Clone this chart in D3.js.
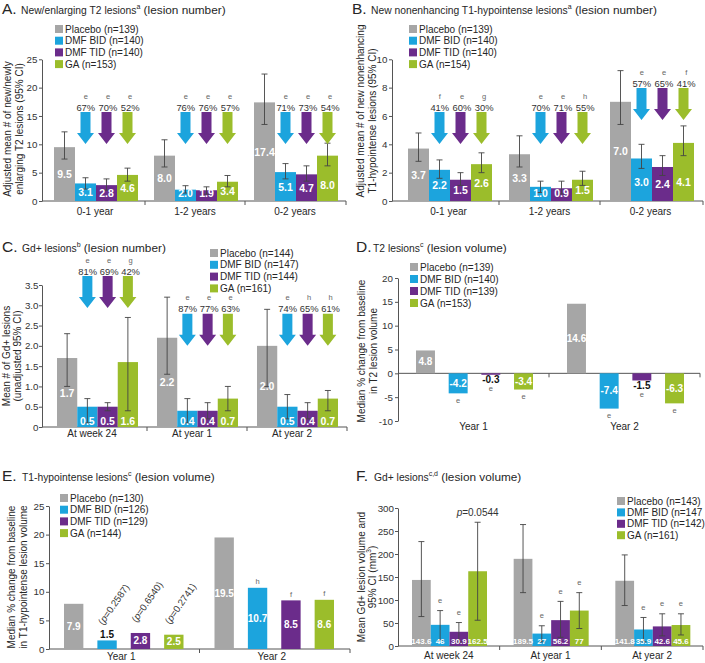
<!DOCTYPE html>
<html><head><meta charset="utf-8">
<script src="https://cdn.jsdelivr.net/npm/d3@7"></script>
<style>
body{margin:0;background:#fff}
svg{display:block;font-family:"Liberation Sans",Arial,Helvetica,sans-serif}
</style>
</head><body>
<svg id="c" width="705" height="663"></svg>
<script>
// ---------- shared ----------
const seriesNames = ["Placebo","DMF BID","DMF TID","GA"];
const colors = ["#a6a6a6","#1ca4dd","#6b2c8b","#9bbd2b"];

// ---------- Panel A ----------
const catsA = ["0-1 year","1-2 years","0-2 years"];
const legendA = ["Placebo (n=139)","DMF BID (n=140)","DMF TID (n=140)","GA (n=153)"];
const placeboA = [9.5, 8.0, 17.4];
const bidA = [3.1, 2.0, 5.1];
const tidA = [2.8, 1.9, 4.7];
const gaA = [4.6, 3.4, 8.0];
const loA = [[7.4, 6.0, 13.5],[2.1, 1.4, 3.9],[1.9, 1.2, 3.5],[3.5, 2.5, 6.2]];
const hiA = [[12.2, 10.8, 22.4],[4.1, 2.7, 6.6],[3.9, 2.5, 6.2],[5.8, 4.5, 10.2]];
const pctA = [[67,70,52],[76,76,57],[71,73,54]];
const sigA = [["e","e","e"],["e","e","e"],["e","e","e"]];
const arrowTopA = [15.7, 15.7, 15.7];
const ticksA = [0,5,10,15,20,25];

// ---------- Panel B ----------
const catsB = ["0-1 year","1-2 years","0-2 years"];
const legendB = ["Placebo (n=139)","DMF BID (n=140)","DMF TID (n=140)","GA (n=154)"];
const placeboB = [3.7, 3.3, 7.0];
const bidB = [2.2, 1.0, 3.0];
const tidB = [1.5, 0.9, 2.4];
const gaB = [2.6, 1.5, 4.1];
const loB = [[2.8, 2.4, 5.4],[1.6, 0.6, 2.3],[1.1, 0.5, 1.8],[2.0, 1.1, 3.2]];
const hiB = [[4.8, 4.6, 9.2],[2.9, 1.4, 4.0],[2.0, 1.4, 3.2],[3.4, 2.1, 5.3]];
const pctB = [[41,60,30],[70,71,55],[57,65,41]];
const sigB = [["f","e","g"],["e","e","h"],["e","e","f"]];
const arrowTopB = [6.28, 6.28, 7.97];
const ticksB = [0,2,4,6,8,10];

// ---------- Panel C ----------
const catsC = ["At week 24","At year 1","At year 2"];
const legendC = ["Placebo (n=144)","DMF BID (n=147)","DMF TID (n=144)","GA (n=161)"];
const placeboC = [1.7, 2.2, 2.0];
const bidC = [0.5, 0.4, 0.5];
const tidC = [0.5, 0.4, 0.4];
const gaC = [1.6, 0.7, 0.7];
const loC = [[1.0, 1.3, 1.0],[0.1, 0.1, 0.2],[0.4, 0.2, 0.2],[0.4, 0.4, 0.4]];
const hiC = [[2.3, 3.2, 2.9],[0.7, 0.7, 0.8],[0.6, 0.6, 0.6],[2.7, 1.0, 0.9]];
const pctC = [[81,69,42],[87,77,63],[74,65,61]];
const sigC = [["e","e","g"],["e","e","e"],["e","h","h"]];
const arrowTopC = [3.72, 2.79, 2.79];
const ticksC = [0,0.5,1.0,1.5,2.0,2.5,3.0,3.5];

// ---------- Panel D ----------
const catsD = ["Year 1","Year 2"];
const legendD = ["Placebo (n=139)","DMF BID (n=140)","DMF TID (n=139)","GA (n=153)"];
const placeboD = [4.8, 14.6];
const bidD = [-4.2, -7.4];
const tidD = [-0.3, -1.5];
const gaD = [-3.4, -6.3];
const sigD = [["e","e","e"],["e","e","e"]];
const ticksD = [-10,-5,0,5,10,15,20];

// ---------- Panel E ----------
const catsE = ["Year 1","Year 2"];
const legendE = ["Placebo (n=130)","DMF BID (n=126)","DMF TID (n=129)","GA (n=144)"];
const placeboE = [7.9, 19.5];
const bidE = [1.5, 10.7];
const tidE = [2.8, 8.5];
const gaE = [2.5, 8.6];
const pvalE = ["0.2587","0.6540","0.2741"];
const sigE = ["h","f","f"];
const ticksE = [0,5,10,15,20,25];

// ---------- Panel F ----------
const catsF = ["At week 24","At year 1","At year 2"];
const legendF = ["Placebo (n=143)","DMF BID (n=147","DMF TID (n=142)","GA (n=161)"];
const placeboF = [143.6, 189.5, 141.8];
const bidF = [46, 27, 35.9];
const tidF = [30.9, 56.2, 42.6];
const gaF = [162.5, 77, 45.6];
const loF = [[64, 116, 88],[13, 9, 9],[9, 19, 22],[56, 38, 24]];
const hiF = [[227, 264, 198],[77, 44, 62],[51, 97, 70],[269, 116, 70]];
const sigF = [["e","e",""],["e","e","e"],["e","e","e"]];
const pNoteF = "0.0544";
const ticksF = [0,50,100,150,200,250,300];

// ---------- drawing ----------
const svg = d3.select("#c");
const TXT = "#262626";

function title(t){
  svg.append("text").attr("x",t.x).attr("y",t.y).attr("font-size",15.5).attr("fill",TXT).text(t.letter+".");
  const tt = svg.append("text").attr("x",t.x2).attr("y",t.y).attr("fill",TXT);
  tt.append("tspan").attr("font-size",10.3).text(t.main);
  tt.append("tspan").attr("font-size",7).attr("dy",-5).text(t.sup);
  tt.append("tspan").attr("font-size",11.8).attr("dy",5).text(" "+t.paren);
}

function panel(c){
  const g = svg.append("g");
  const y = d3.scaleLinear().domain(c.yDomain).range(c.yRange);
  const x = d3.scaleBand().domain(c.cats).range(c.band);
  const s = d3.scaleBand().domain(d3.range(4)).range(c.inner).paddingInner(c.pad||0);
  const base = y(0);
  c.y = y; c.x = x; c.s = s; c.base = base;

  // y axis
  const ya = g.append("g").attr("transform",`translate(${c.axisX},0)`)
    .call(d3.axisLeft(y).tickValues(c.ticks).tickSize(3).tickSizeOuter(0).tickPadding(c.tickPad==null?1.5:c.tickPad).tickFormat(c.fmt||(d=>d)));
  ya.select(".domain").attr("stroke","#555");
  ya.selectAll(".tick line").attr("stroke","#555");
  ya.selectAll(".tick text").attr("font-size",9.8).attr("fill","#333").attr("font-family",'"Liberation Sans",Arial,sans-serif');

  // x axis line + ticks
  g.append("line").attr("x1",c.axisX).attr("x2",c.xEnd).attr("y1",base).attr("y2",base).attr("stroke","#555");
  const tickXs = c.cats.slice(1).map(k=>x(k)).concat([c.xEnd]);
  g.selectAll(".xt").data(tickXs).enter().append("line")
    .attr("x1",d=>d).attr("x2",d=>d).attr("y1",base).attr("y2",base+4).attr("stroke","#555");

  // category labels
  g.selectAll(".xl").data(c.cats).enter().append("text")
    .attr("x",d=>x(d)+x.bandwidth()/2+(c.xLabelDx||0)).attr("y",c.xLabelY)
    .attr("text-anchor","middle").attr("dominant-baseline","central")
    .attr("font-size",10).attr("fill",TXT).text(d=>d);

  // bars
  const rows = [];
  c.cats.forEach((cat,ci)=>c.vals.forEach((arr,si)=>{
    rows.push({cat,ci,si,v:arr[ci],
      lo:c.lo?c.lo[si][ci]:null, hi:c.hi?c.hi[si][ci]:null,
      cx:x(cat)+s(si)+s.bandwidth()/2, bx:x(cat)+s(si)});
  }));
  c.rows = rows;
  g.selectAll(".bar").data(rows).enter().append("rect")
    .attr("x",d=>d.bx).attr("width",s.bandwidth())
    .attr("y",d=>Math.min(y(d.v),base)).attr("height",d=>Math.abs(y(d.v)-base))
    .attr("fill",d=>colors[d.si]);

  // error bars
  if(c.lo){
    const eb = g.selectAll(".eb").data(rows).enter().append("g").attr("stroke","#444").attr("stroke-width",0.9);
    eb.append("line").attr("x1",d=>d.cx).attr("x2",d=>d.cx).attr("y1",d=>y(d.lo)).attr("y2",d=>y(d.hi));
    eb.append("line").attr("x1",d=>d.cx-3).attr("x2",d=>d.cx+3).attr("y1",d=>y(d.lo)).attr("y2",d=>y(d.lo));
    eb.append("line").attr("x1",d=>d.cx-3).attr("x2",d=>d.cx+3).attr("y1",d=>y(d.hi)).attr("y2",d=>y(d.hi));
  }

  // value labels
  rows.forEach(d=>{
    const L = c.label(d,y,base);
    g.append("text").attr("x",d.cx).attr("y",L.y).attr("text-anchor","middle")
      .attr("dominant-baseline","central").attr("font-weight","bold")
      .attr("font-size",c.labelSize||10.5).attr("fill",L.color).text(c.fmtLabel?c.fmtLabel(d.v):d.v.toFixed(1));
  });

  // legend
  const lg = g.selectAll(".lg").data(c.legend).enter().append("g")
    .attr("transform",(d,i)=>`translate(${c.leg.x},${c.leg.y+i*c.leg.step})`);
  lg.append("rect").attr("x",0).attr("y",-4).attr("width",8).attr("height",8).attr("fill",(d,i)=>colors[i]);
  lg.append("text").attr("x",c.leg.tx).attr("y",0).attr("dominant-baseline","central")
    .attr("font-size",10).attr("fill",TXT).text(d=>d);

  // y label
  c.ylab.forEach(ln=>{
    const t = g.append("text").attr("transform",`translate(${ln.x},${ln.cy}) rotate(-90)`)
      .attr("text-anchor","middle").attr("dominant-baseline","central")
      .attr("font-size",10).attr("fill",TXT);
    ln.parts.forEach(p=>{
      const sp = t.append("tspan").text(p.t);
      if(p.sup) sp.attr("font-size",6.5).attr("dy",-4);
      if(p.after) sp.attr("dy",4);
    });
  });
  return g;
}

function arrows(c, pct, sig, tops){
  const g = svg.append("g");
  c.rows.filter(d=>d.si>0).forEach(d=>{
    const t = c.y(tops[d.ci]);
    const cx = d.cx;
    const p = `M${cx-5},${t}L${cx+5},${t}L${cx+5},${t+21}L${cx+8.5},${t+21}L${cx},${t+32}L${cx-8.5},${t+21}L${cx-5},${t+21}Z`;
    g.append("path").attr("d",p).attr("fill",colors[d.si]);
    const lx = cx + 1.5 + (d.si-2)*1.2;
    g.append("text").attr("x",lx).attr("y",t-5).attr("text-anchor","middle").attr("dominant-baseline","central")
      .attr("font-size",9.4).attr("fill","#333").text(pct[d.ci][d.si-1]+"%");
    g.append("text").attr("x",lx).attr("y",t-16).attr("text-anchor","middle").attr("dominant-baseline","central")
      .attr("font-size",7.5).attr("fill","#666").text(sig[d.ci][d.si-1]);
  });
}

const midLabel = (d,y,b)=>({y:(y(d.v)+b)/2,color:"#fff"});

// ---- A ----
title({letter:"A",x:2,x2:21,y:14,main:"New/enlarging T2 lesions",sup:"a",paren:"(lesion number)"});
const cA = {cats:catsA, vals:[placeboA,bidA,tidA,gaA], lo:loA, hi:hiA,
  yDomain:[0,25], yRange:[201,59.3], ticks:ticksA, axisX:42, xEnd:346,
  band:[45,345], inner:[9,93], xLabelY:211,
  label:(d,y,b)=> d.si===0 ? midLabel(d,y,b) : {y:Math.max(b-16,Math.min(b-8,(y(d.v)+b)/2)),color:"#fff"},
  legend:legendA, leg:{x:55,y:29,step:11.7,tx:10},
  ylab:[{x:7,cy:129,parts:[{t:"Adjusted mean # of new/newly"}]},{x:19,cy:129,parts:[{t:"enlarging T2 lesions (95% CI)"}]}]};
panel(cA); arrows(cA,pctA,sigA,arrowTopA);

// ---- B ----
title({letter:"B",x:352,x2:371,y:14,main:"New nonenhancing T1-hypointense lesions",sup:"a",paren:"(lesion number)"});
const cB = {cats:catsB, vals:[placeboB,bidB,tidB,gaB], lo:loB, hi:hiB,
  yDomain:[0,10], yRange:[201,59.3], ticks:ticksB, axisX:392, xEnd:703,
  band:[398,701], inner:[10,94], xLabelY:211,
  label:(d,y,b)=> d.si===0 ? midLabel(d,y,b) : {y:Math.max(b-19,Math.min(b-8,(y(d.v)+b)/2)),color:"#fff"},
  legend:legendB, leg:{x:409,y:29,step:11.7,tx:10},
  ylab:[{x:360,cy:111,parts:[{t:"Adjusted mean # of new nonenhancing"}]},{x:372,cy:121,parts:[{t:"T1-hypointense lesions (95% CI)"}]}]};
panel(cB); arrows(cB,pctB,sigB,arrowTopB);

// ---- C ----
title({letter:"C",x:2,x2:22,y:252,main:"Gd+ lesions",sup:"b",paren:"(lesion number)"});
const cC = {cats:catsC, vals:[placeboC,bidC,tidC,gaC], lo:loC, hi:hiC,
  yDomain:[0,3.5], yRange:[427,285], ticks:ticksC, axisX:42, xEnd:347, tickPad:0.5,
  fmt:d=>d===0?"0":d.toFixed(1),
  band:[47,347], inner:[10,91], xLabelY:433, xLabelDx:-5,
  label:(d,y,b)=> d.si===0 ? midLabel(d,y,b) : {y:b-6,color:"#fff"},
  legend:legendC, leg:{x:210,y:253,step:11.8,tx:10},
  ylab:[{x:6,cy:356,parts:[{t:"Mean # of Gd+ lesions"}]},{x:17,cy:356,parts:[{t:"(unadjusted 95% CI)"}]}]};
panel(cC); arrows(cC,pctC,sigC,arrowTopC);

// ---- D ----
title({letter:"D",x:356,x2:373,y:252,main:"T2 lesions",sup:"c",paren:"(lesion volume)"});
const cD = {cats:catsD, vals:[placeboD,bidD,tidD,gaD],
  yDomain:[-10,20], yRange:[421,278], ticks:ticksD, axisX:398, xEnd:700, tickPad:2,
  band:[398,700], inner:[18,135], pad:0.42, xLabelY:426, labelSize:10,
  label:(d,y,b)=> Math.abs(y(d.v)-b)>=12 ? midLabel(d,y,b) : {y:Math.max(y(d.v),b)+5,color:"#111"},
  legend:legendD, leg:{x:410,y:267,step:12,tx:10},
  ylab:[{x:361,cy:351,parts:[{t:"Median % change from baseline"}]},{x:373,cy:351,parts:[{t:"in T2 lesion volume"}]}]};
panel(cD);
{
  const g = svg.append("g");
  cD.rows.filter(d=>d.si>0).forEach(d=>{
    const h = Math.abs(cD.y(d.v)-cD.base);
    const bottom = Math.max(cD.y(d.v),cD.base);
    const yy = h>=12 ? bottom+7 : bottom+14;
    g.append("text").attr("x",d.cx).attr("y",yy).attr("text-anchor","middle").attr("dominant-baseline","central")
      .attr("font-size",7.5).attr("fill","#666").text(sigD[d.ci][d.si-1]);
  });
}

// ---- E ----
title({letter:"E",x:2,x2:22,y:481,main:"T1-hypointense lesions",sup:"c",paren:"(lesion volume)"});
const cE = {cats:catsE, vals:[placeboE,bidE,tidE,gaE],
  yDomain:[0,25], yRange:[649,506], ticks:ticksE, axisX:49, xEnd:350,
  band:[49,350], inner:[15,134.5], pad:0.42, xLabelY:656, xLabelDx:-3, labelSize:10,
  label:(d,y,b)=> Math.abs(y(d.v)-b)>=12 ? midLabel(d,y,b) : {y:y(d.v)-6,color:"#111"},
  legend:legendE, leg:{x:60,y:498,step:11.7,tx:10},
  ylab:[{x:11,cy:577,parts:[{t:"Median % change from baseline"}]},{x:23,cy:577,parts:[{t:"in T1-hypointense lesion volume"}]}]};
panel(cE);
{
  const g = svg.append("g");
  cE.rows.filter(d=>d.si>0).forEach(d=>{
    const top = cE.y(d.v);
    if(d.ci===0){
      const small = Math.abs(top-cE.base)<12;
      const py = small ? top-15 : top-10;
      const t = g.append("text").attr("transform",`translate(${d.cx-4},${py}) rotate(-55)`)
        .attr("font-size",9.6).attr("fill","#333");
      t.append("tspan").text("(");
      t.append("tspan").attr("font-style","italic").text("p");
      t.append("tspan").text("="+pvalE[d.si-1]+")");
    } else {
      g.append("text").attr("x",d.cx).attr("y",top-6).attr("text-anchor","middle").attr("dominant-baseline","central")
        .attr("font-size",7.5).attr("fill","#666").text(sigE[d.si-1]);
    }
  });
}

// ---- F ----
title({letter:"F",x:356,x2:374,y:481,main:"Gd+ lesions",sup:"c,d",paren:"(lesion volume)"});
const cF = {cats:catsF, vals:[placeboF,bidF,tidF,gaF], lo:loF, hi:hiF,
  yDomain:[0,300], yRange:[646,508], ticks:ticksF, axisX:398, xEnd:703, tickPad:1,
  band:[398,703], inner:[14,89], xLabelY:655, labelSize:8,
  fmtLabel:v=>String(v),
  label:(d,y,b)=>({y:b-5,color:"#fff"}),
  legend:legendF, leg:{x:617,y:501,step:11.4,tx:10},
  ylab:[{x:361,cy:577,parts:[{t:"Mean Gd+ lesion volume and"}]},{x:372,cy:577,parts:[{t:"95% CI (mm"},{t:"3",sup:true},{t:")",after:true}]}]};
panel(cF);
{
  const g = svg.append("g");
  cF.rows.filter(d=>d.si>0).forEach(d=>{
    const yy = cF.y(d.hi)-10;
    const s = sigF[d.ci][d.si-1];
    if(s){
      g.append("text").attr("x",d.cx).attr("y",yy).attr("text-anchor","middle").attr("dominant-baseline","central")
        .attr("font-size",7.5).attr("fill","#666").text(s);
    } else {
      const t = g.append("text").attr("x",d.cx).attr("y",yy).attr("text-anchor","middle").attr("dominant-baseline","central")
        .attr("font-size",10).attr("fill","#333");
      t.append("tspan").attr("font-style","italic").text("p");
      t.append("tspan").text("="+pNoteF);
    }
  });
}
</script>
</body></html>
